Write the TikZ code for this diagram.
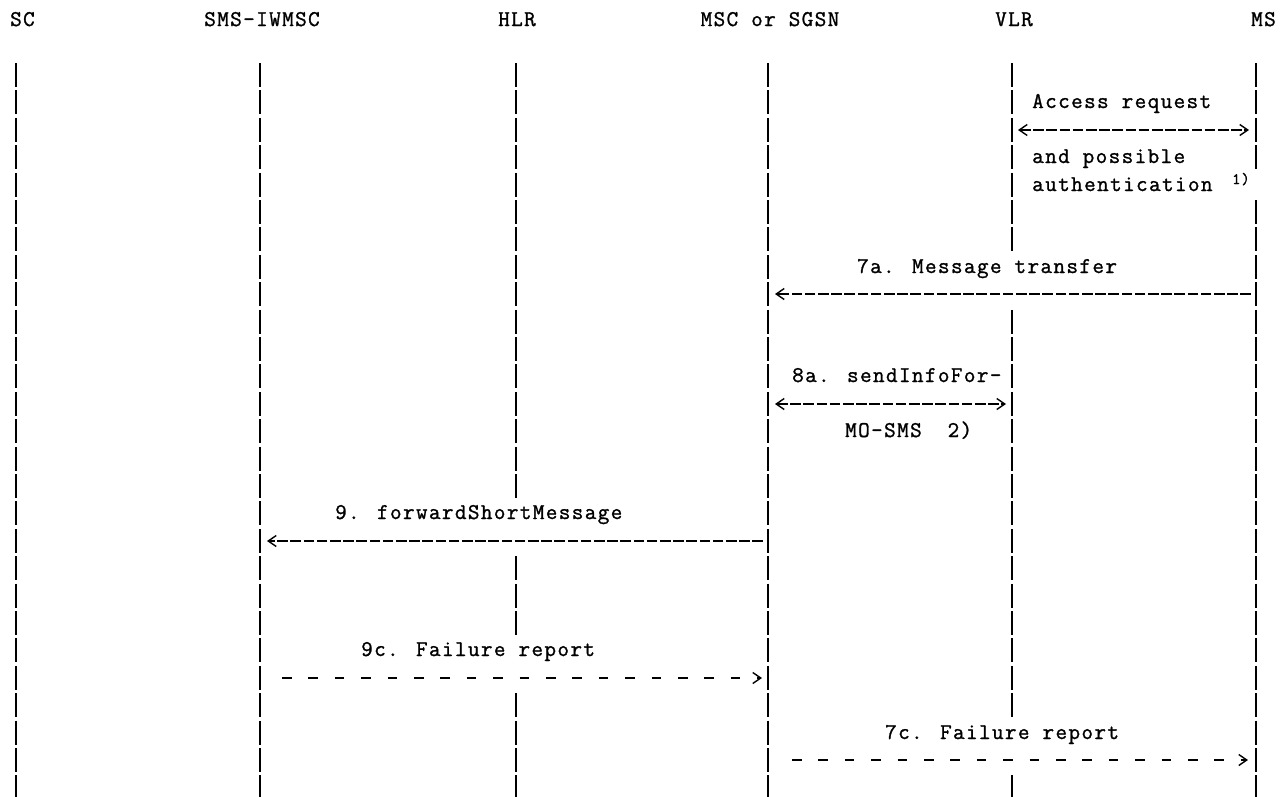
\documentclass[tikz,border=0pt]{standalone}
\usepackage{fontspec}
\newfontfamily\cour[LetterSpace=6.2,FakeBold=1.2]{Latin Modern Mono}
\usetikzlibrary{arrows.meta}
\begin{document}
\begin{tikzpicture}[x=1pt,y=-1pt,
  >={Straight Barb[length=8pt,width=11pt,line width=1.4pt]},
  txt/.style={font=\cour\fontsize{22.5}{27}\selectfont, inner sep=0pt, anchor=base west},
  hdr/.style={font=\cour\fontsize{22.5}{27}\selectfont, inner sep=0pt, anchor=base},
  suptxt/.style={font=\cour\fontsize{16}{18}\selectfont, inner sep=0pt, anchor=base west},
  life/.style={line width=1.6pt, dash pattern=on 24pt off 3.4pt},
  gap/.style={draw=white, line width=6pt},
  msg/.style={line width=1.5pt, dash pattern=on 10.6pt off 2.6pt},
  ret/.style={line width=1.5pt, dash pattern=on 9.5pt off 16.9pt}
]
\useasboundingbox (0,0) rectangle (1286,796);
% row r centre: 75 + 27.4 r ; baseline = centre + 6

% headers
\node[txt] (sc)  at (10,26)  {SC};
\node[hdr] (iw)  at (262,26) {SMS-IWMSC};
\node[hdr] (hlr) at (517,26) {HLR};
\node[hdr] (msc) at (770,26) {MSC or SGSN};
\node[hdr] (vlr) at (1014,26) {VLR};
\node[txt] (ms)  at (1251,26) {MS};

% lifelines
\foreach \n/\x in {sc/16, iw/260, hlr/516, msc/768, vlr/1012, ms/1256}{
  \coordinate (\n T) at (\x,63);
  \coordinate (\n B) at (\x,800);
}
\foreach \n in {sc,iw,hlr,msc,vlr,ms}{
  \draw[life] (\n T) -- (\n B);
}

% gaps where text / arrows replace the lifeline
\draw[gap] (1012,253) -- (1012,308);
\draw[gap] (1012,719) -- (1012,774);
\draw[gap] (516,500) -- (516,555);
\draw[gap] (516,637) -- (516,692);
\draw[gap] (1256,171) -- (1256,198);

% arrow end points
\coordinate (a1l) at (1018,130);  \coordinate (a1r) at (1249,130);
\coordinate (a2r) at (1251,294);  \coordinate (a2l) at (775,294);
\coordinate (a3l) at (775,404);   \coordinate (a3r) at (1006,404);
\coordinate (a4r) at (763,541);   \coordinate (a4l) at (267,541);
\coordinate (a5l) at (282,678);   \coordinate (a5r) at (762,678);
\coordinate (a6l) at (792,760);   \coordinate (a6r) at (1248,760);

\draw[msg, <->] (a1l) -- (a1r);
\draw[msg, ->] (a2r) -- (a2l);
\draw[msg, <->] (a3l) -- (a3r);
\draw[msg, ->] (a4r) -- (a4l);
\draw[ret, ->] (a5l) -- (a5r);
\draw[ret, ->] (a6l) -- (a6r);

% labels
\node[txt] (t1) at (1032,108) {Access request};
\node[txt] (t2) at (1032,163) {and possible};
\node[txt] (t3) at (1032,191) {authentication};
\node[suptxt] (t3s) at (1232,184) {1)};
\node[txt] (t4) at (857,273) {7a. Message transfer};
\node[txt] (t5) at (792,382) {8a. sendInfoFor-};
\node[txt] (t6) at (845,437) {MO-SMS~~2)};
\node[txt] (t7) at (335,519) {9. forwardShortMessage};
\node[txt] (t8) at (361,656) {9c. Failure report};
\node[txt] (t9) at (885,739) {7c. Failure report};
\end{tikzpicture}
\end{document}
